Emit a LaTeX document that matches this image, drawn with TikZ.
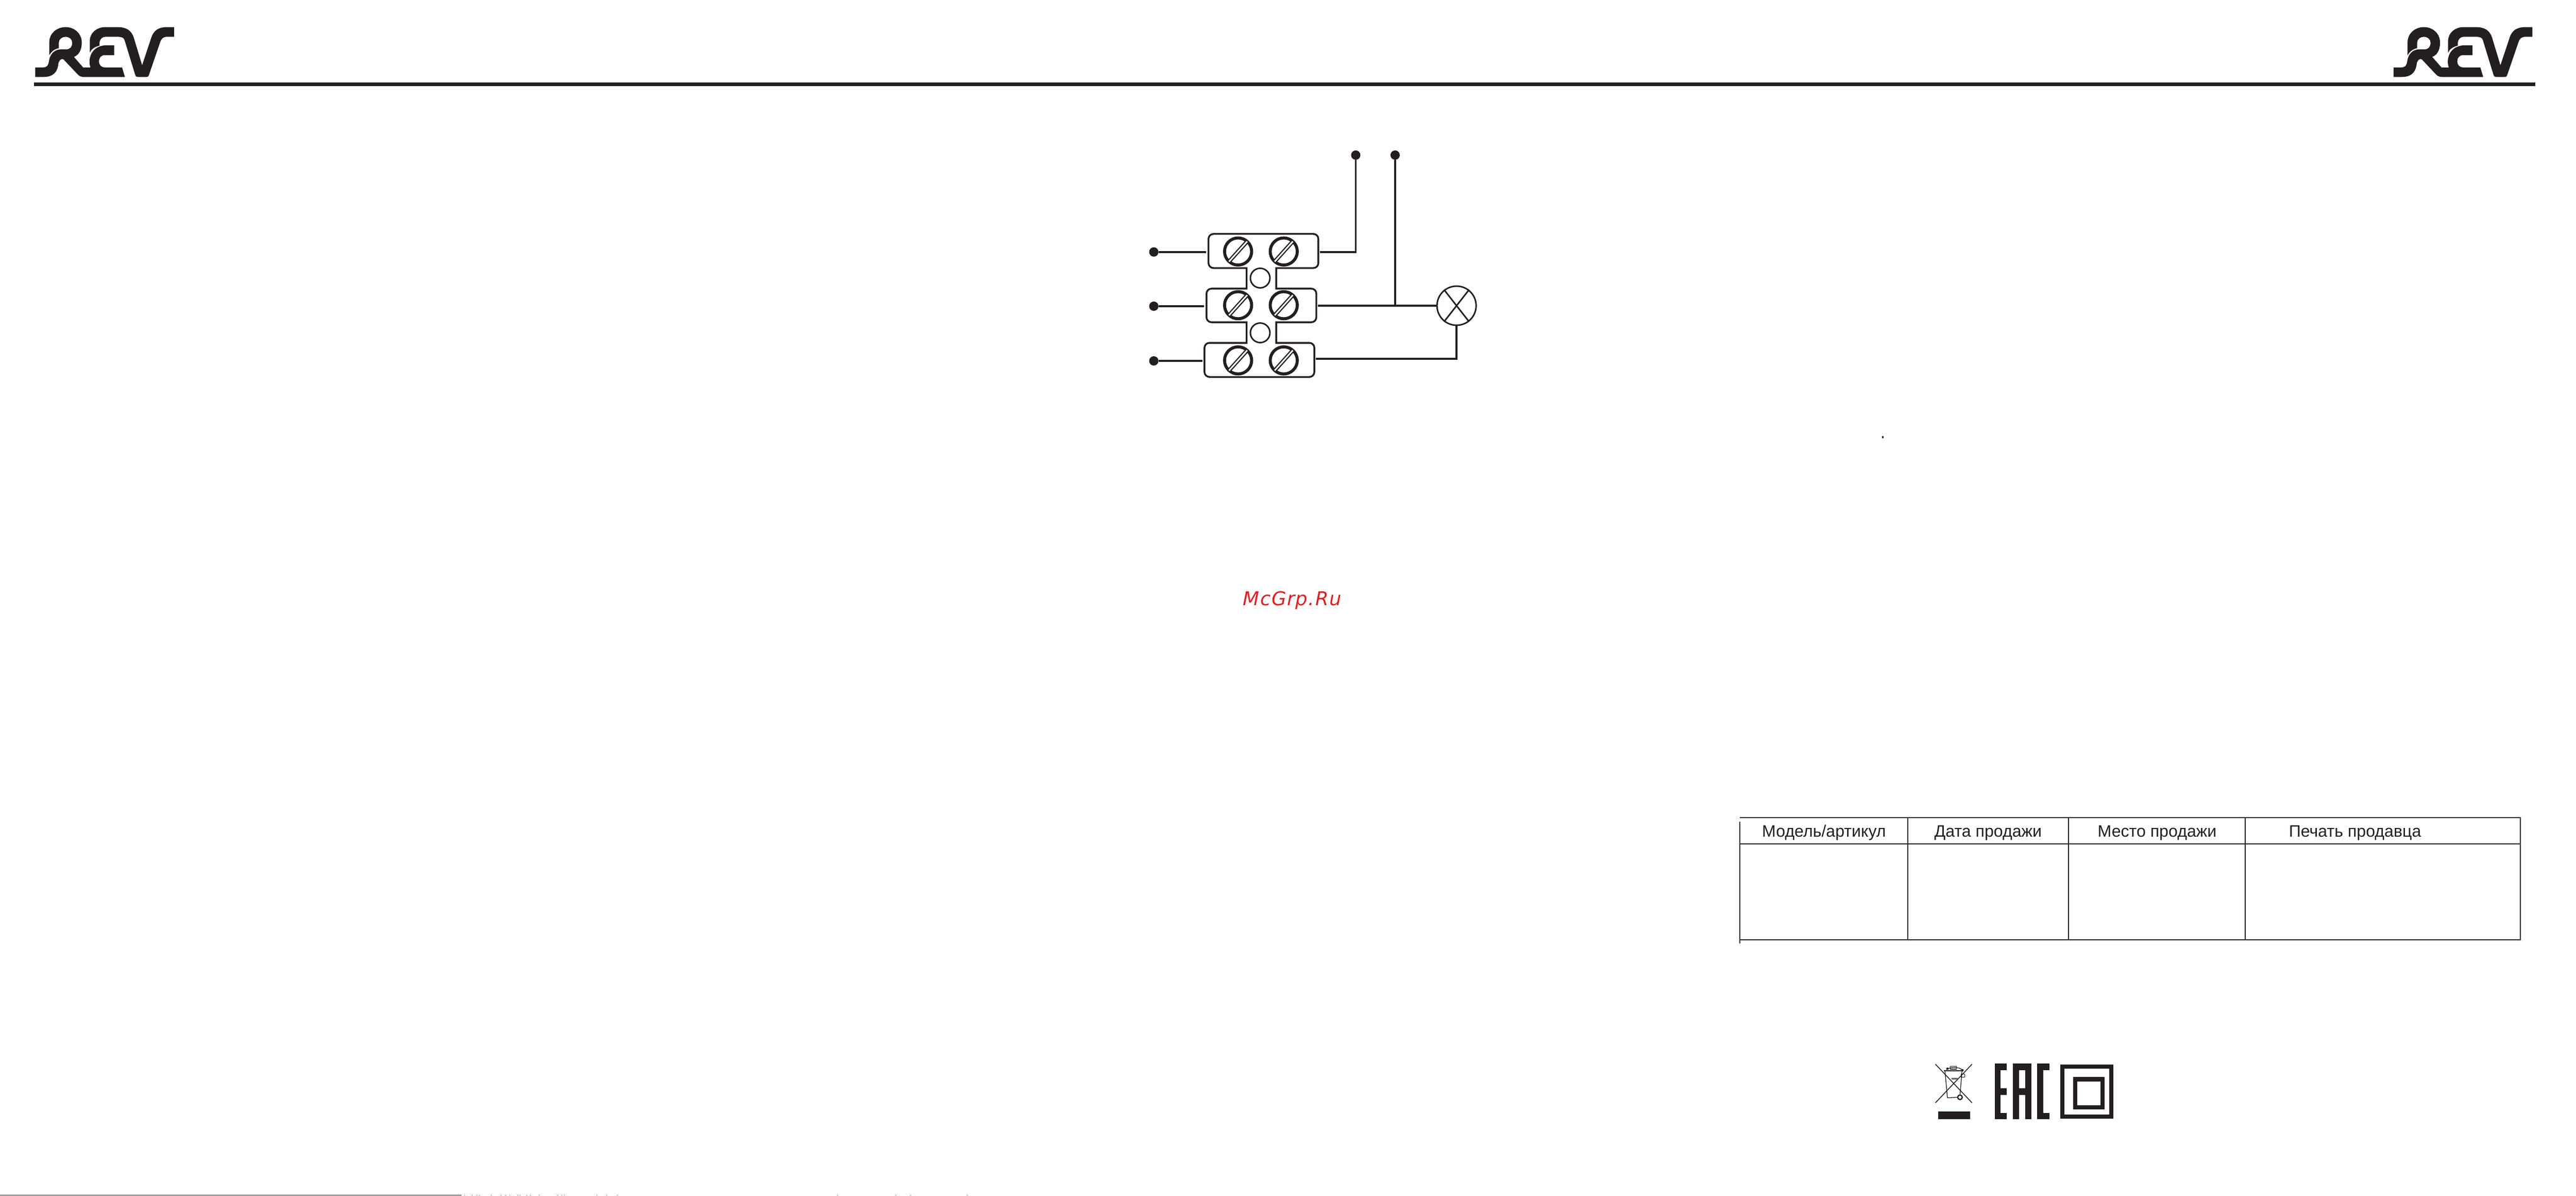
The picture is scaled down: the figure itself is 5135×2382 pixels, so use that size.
\documentclass[tikz,border=0pt]{standalone}
\usepackage{fontspec}
\setmainfont{Liberation Sans}
\newfontfamily\mcfont[LetterSpace=4]{DejaVu Sans}
\definecolor{inkblack}{HTML}{231F20}
\definecolor{markred}{HTML}{DF2024}
\tikzset{
  wire/.style={line width=4pt,inkblack},
  shell/.style={line width=3.5pt,inkblack},
  wdot/.style={circle,fill=inkblack,inner sep=0pt,minimum size=18.6pt},
  screw/.style={circle,draw=inkblack,line width=6pt,inner sep=0pt,minimum size=54pt},
  hole/.style={circle,draw=inkblack,line width=3pt,inner sep=0pt,minimum size=39pt},
  lampbody/.style={circle,draw=inkblack,line width=3pt,inner sep=0pt,minimum size=78pt},
  slot/.style={line width=2.4pt,inkblack,double=white,double distance=3pt,shorten >=3pt,shorten <=3pt},
  headcell/.style={anchor=base,inner sep=0pt,inkblack,font=\fontsize{33}{40}\selectfont},
  grid/.style={line width=2pt,inkblack},
  gridbold/.style={line width=2.4pt,inkblack},
  pics/revlogo/.style={code={
    \begin{scope}[x=0.3333pt,y=-0.3333pt]
    \fill[inkblack] (537,315)--(537,245) .. controls (537,195) and (580,162) .. (630,162)--(700,162)
      .. controls (755,162) and (785,180) .. (800,225)--(850,390)--(905,225)
      .. controls (920,180) and (950,162) .. (1000,162)--(1041,162)--(1041,220)--(1000,220)
      .. controls (975,220) and (965,230) .. (957,255)--(890,450)
      .. controls (887,458) and (885,460) .. (875,460)--(825,460)
      .. controls (815,460) and (812,458) .. (808,445)--(745,240)
      .. controls (740,225) and (730,220) .. (700,220)--(630,220)
      .. controls (610,220) and (595,235) .. (595,260)--(595,273)
      .. controls (565,280) and (545,295) .. (537,315)--cycle;
    \fill[inkblack] (683,271)--(683,329)--(630,329) .. controls (605,329) and (592,345) .. (592,365)
      .. controls (592,390) and (605,403) .. (630,403)--(730,403)--(747,460)--(500,460)
      .. controls (485,460) and (475,455) .. (465,445)--(381,356) .. controls (370,345) and (355,360) .. (350,375)
      .. controls (345,430) and (320,460) .. (260,460)--(211,460)--(211,403)--(255,403)
      .. controls (280,403) and (288,395) .. (293,365)
      .. controls (298,325) and (325,295) .. (365,295)--(395,295)
      .. controls (420,295) and (432,280) .. (432,255)
      .. controls (432,235) and (415,220) .. (392,220)
      .. controls (370,220) and (352,235) .. (352,255)--(352,288)
      .. controls (325,293) and (305,310) .. (295,330)--(295,250)
      .. controls (295,200) and (340,162) .. (392,162)
      .. controls (445,162) and (489,200) .. (489,255)
      .. controls (489,300) and (470,330) .. (442,340)--(497,403)--(541,403)
      .. controls (535,385) and (533,365) .. (538,345)
      .. controls (548,300) and (585,271) .. (635,271)--cycle;
    \end{scope}
  }}
}
\begin{document}
\begin{tikzpicture}[x=1pt,y=-1pt]
\useasboundingbox (0,0) rectangle (5135,2382);

\pic at (0,0) {revlogo};
\pic at (4701,0) {revlogo};
\fill[inkblack] (68,164) rectangle (5054,171);

\node[wdot] (dotw1) at (2300,502) {};
\node[wdot] (dotw2) at (2300,610) {};
\node[wdot] (dotw3) at (2300,719) {};
\node[wdot] (dotn1) at (2702.5,309) {};
\node[wdot] (dotn2) at (2781,309) {};
\node[lampbody] (lamp) at (2903.5,609) {};
\coordinate (blk1w) at (2404,502);
\coordinate (blk2w) at (2400,610);
\coordinate (blk3w) at (2397,719);
\coordinate (blk1e) at (2631,502);
\coordinate (blk2e) at (2627,609);
\coordinate (blk3e) at (2623,715);
\coordinate (tee) at (2781,609);

\draw[wire] (dotw1)--(blk1w);
\draw[wire] (dotw2)--(blk2w);
\draw[wire] (dotw3)--(blk3w);
\draw[wire] (blk1e)-|(dotn1);
\draw[wire] (blk2e)--(lamp);
\draw[wire] (dotn2)--(tee);
\draw[wire] (blk3e)-|(lamp);
\draw[line width=3pt,inkblack] (lamp.52)--(lamp.232) (lamp.128)--(lamp.308);

\draw[shell] (2485,534) [rounded corners=10pt] --(2409,534)--(2409,466)--(2628,466)--(2628,534) [sharp corners] --(2544,534)--(2544,575)
  [rounded corners=10pt] --(2624,575)--(2624,642) [sharp corners] --(2544,642)--(2544,683)
  [rounded corners=10pt] --(2620,683)--(2620,751)--(2401,751)--(2401,683) [sharp corners] --(2485,683)--(2485,642)
  [rounded corners=10pt] --(2405,642)--(2405,575) [sharp corners] --(2485,575)--cycle;

\foreach \row/\ypos in {1/501,2/608,3/718} {
  \node[screw] (scl\row) at (2468,\ypos) {};
  \node[screw] (scr\row) at (2559,\ypos) {};
  \draw[slot] (scl\row.48)--(scl\row.228);
  \draw[slot] (scr\row.48)--(scr\row.228);
}
\node[hole] (hole1) at (2512,554) {};
\node[hole] (hole2) at (2512,663) {};

\node[anchor=base,inner sep=0pt,text=markred,font=\fontsize{38}{44}\mcfont\itshape] (mark) at (2576,1206) {McGrp.Ru};
\fill[inkblack] (3752,869) rectangle (3755,873);

\draw[gridbold] (3468,1629)--(5025,1629);
\draw[gridbold] (3468,1681)--(5025,1681);
\draw[gridbold] (3468,1872)--(5025,1872);
\draw[grid] (3468,1637)--(3468,1879);
\foreach \xpos in {3803,4123,4476,5024} {
  \draw[grid] (\xpos,1629)--(\xpos,1872);
}
\node[headcell] (cellmodel) at (3636,1667) {Модель/артикул};
\node[headcell] (celldate) at (3963,1667) {Дата продажи};
\node[headcell] (cellplace) at (4300,1667) {Место продажи};
\node[headcell] (cellstamp) at (4694.5,1667) {Печать продавца};

\draw[line width=1.6pt,inkblack] (3858,2120)--(3931,2197) (3931,2120)--(3858,2197);
\fill[inkblack] (3864,2214) rectangle (3927,2230);
\draw[line width=1.4pt,inkblack] (3877,2133)--(3882,2187)--(3902,2186) (3911,2133)--(3907,2182);
\draw[line width=1.4pt,inkblack] (3875,2133)--(3913,2133);
\draw[line width=1.4pt,inkblack] (3880,2131) .. controls (3888,2125) and (3904,2125) .. (3911,2131);
\draw[line width=1.2pt,inkblack] (3888,2124) rectangle (3900,2130);
\draw[line width=1.2pt,inkblack] (3909,2140) rectangle (3916,2146);
\fill[inkblack] (3882,2129) circle (2.4pt) (3912,2132) circle (2.4pt);
\fill[inkblack!70] (3890,2147) rectangle (3903,2151);
\draw[line width=2.4pt,inkblack] (3907,2186) circle (4.6pt);

\fill[inkblack] (3976,2119) rectangle (3988,2230);
\fill[inkblack] (3976,2119) rectangle (4000,2132);
\fill[inkblack] (3976,2168) rectangle (4000,2181);
\fill[inkblack] (3976,2217) rectangle (4000,2230);
\fill[inkblack] (4012,2119) rectangle (4025,2230);
\fill[inkblack] (4037,2119) rectangle (4049,2230);
\fill[inkblack] (4012,2119) rectangle (4049,2132);
\fill[inkblack] (4012,2168) rectangle (4049,2181);
\fill[inkblack] (4061,2119) rectangle (4073,2230);
\fill[inkblack] (4061,2119) rectangle (4085,2132);
\fill[inkblack] (4061,2217) rectangle (4085,2230);

\draw[line width=8.3pt,inkblack] (4111,2125) rectangle (4209,2224);
\draw[line width=8.3pt,inkblack] (4137,2150) rectangle (4191,2206);

\fill[inkblack] (0,2381) rectangle (920,2382);
\foreach \xpos in {925,941,950,955,979,998,1007,1016,1032,1036,1050,1057,1074,1111,1119,1125,1189,1209,1230,1669,1785,1815,1928} {
  \fill[inkblack] (\xpos,2381) rectangle (\xpos+1,2382);
}
\end{tikzpicture}
\end{document}
